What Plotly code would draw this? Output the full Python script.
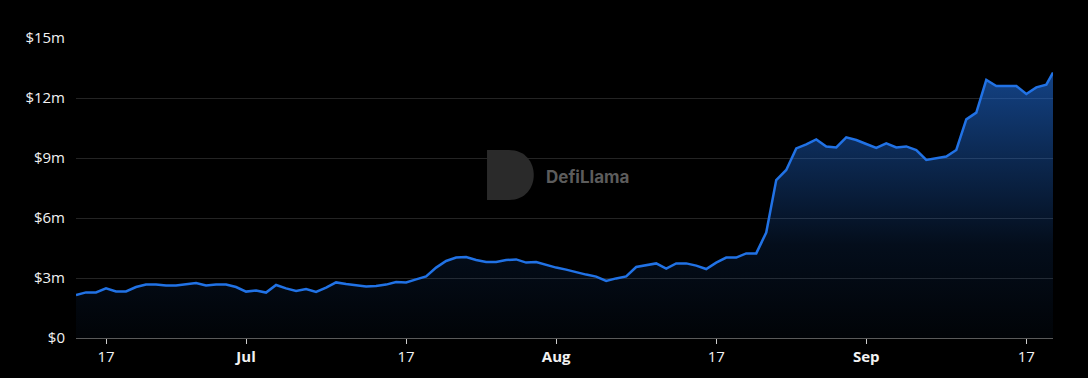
import pandas as pd
import plotly.graph_objects as go

# ---- data (TVL in $ millions, daily from 2023-06-14, last point is intraday) ----
start_date = "2023-06-14"
last_point_time = "2023-09-19 16:00"
tvl_musd = [
    2.15, 2.28, 2.28, 2.48, 2.33, 2.33, 2.55, 2.67, 2.68, 2.63,
    2.62, 2.68, 2.75, 2.63, 2.67, 2.67, 2.55, 2.32, 2.37, 2.27,
    2.65, 2.48, 2.35, 2.45, 2.30, 2.52, 2.78, 2.70, 2.63, 2.58,
    2.60, 2.67, 2.80, 2.78, 2.93, 3.08, 3.52, 3.85, 4.02, 4.05,
    3.90, 3.80, 3.80, 3.90, 3.93, 3.77, 3.80, 3.65, 3.52, 3.42,
    3.28, 3.17, 3.07, 2.85, 2.98, 3.08, 3.55, 3.63, 3.73, 3.47,
    3.73, 3.73, 3.62, 3.45, 3.77, 4.02, 4.02, 4.23, 4.23, 5.27,
    7.90, 8.40, 9.48, 9.68, 9.93, 9.57, 9.53, 10.03, 9.90, 9.70,
    9.50, 9.73, 9.53, 9.58, 9.40, 8.90, 9.00, 9.07, 9.40, 10.93,
    11.27, 12.90, 12.60, 12.60, 12.60, 12.20, 12.53, 12.67, 13.27,
]
y_tickvals = [0, 3, 6, 9, 12, 15]
y_ticktext = ["$0", "$3m", "$6m", "$9m", "$12m", "$15m"]
x_tickvals = ["2023-06-17", "2023-07-01", "2023-07-17", "2023-08-01",
              "2023-08-17", "2023-09-01", "2023-09-17"]
x_ticktext = ["17", "<b>Jul</b>", "17", "<b>Aug</b>", "17", "<b>Sep</b>", "17"]

daily = list(pd.date_range(start_date, periods=len(tvl_musd) - 1, freq="D"))
dates = daily + [pd.Timestamp(last_point_time)]
values = [v * 1e6 for v in tvl_musd]

LINE = "#2172e5"

fig = go.Figure()
fig.add_trace(go.Scatter(
    x=dates, y=values, mode="lines",
    line=dict(color=LINE, width=2.5),
    fill="tozeroy",
    fillgradient=dict(
        type="vertical",
        start=0, stop=max(values),
        colorscale=[[0, "rgba(33,114,229,0.03)"],
                    [0.35, "rgba(33,114,229,0.12)"],
                    [1, "rgba(33,114,229,0.58)"]],
    ),
    hoverinfo="skip",
))

fig.update_layout(
    width=1088, height=378,
    margin=dict(l=76, r=35, t=38, b=40),
    paper_bgcolor="#000000",
    plot_bgcolor="#000000",
    showlegend=False,
    font=dict(family="Open Sans, Inter, sans-serif", size=15, color="#f2f2f2"),
    xaxis=dict(
        range=[dates[0], dates[-1]],
        tickvals=x_tickvals, ticktext=x_ticktext,
        showgrid=False, zeroline=False,
        showline=True, linecolor="#5a5a5a", linewidth=1,
        ticks="outside", ticklen=5, tickcolor="#cfcfcf", tickwidth=1,
        tickfont=dict(size=15, color="#f2f2f2"),
    ),
    yaxis=dict(
        range=[0, 15e6],
        tickvals=[v * 1e6 for v in y_tickvals], ticktext=y_ticktext,
        showgrid=True, gridcolor="#242424", gridwidth=1,
        zeroline=False, showline=False, ticks="",
        ticklabelstandoff=10,
        tickfont=dict(size=15, color="#f2f2f2"),
    ),
)

# DefiLlama watermark
fig.add_shape(
    type="path", xref="paper", yref="paper",
    xsizemode="pixel", ysizemode="pixel",
    xanchor=0.4432, yanchor=0.5433,
    path="M -22,-25 L -22,25 L 0,25 C 33,25 33,-25 0,-25 Z",
    fillcolor="#2a2a2a", line=dict(width=0), layer="above",
)
fig.add_annotation(
    xref="paper", yref="paper", x=(587 - 76) / 977, y=(338 - 177) / 300,
    text="<b>DefiLlama</b>", showarrow=False,
    font=dict(family="Inter, sans-serif", size=17, color="#5c5c5c"),
    xanchor="center", yanchor="middle",
)

fig.write_html("out.html")
